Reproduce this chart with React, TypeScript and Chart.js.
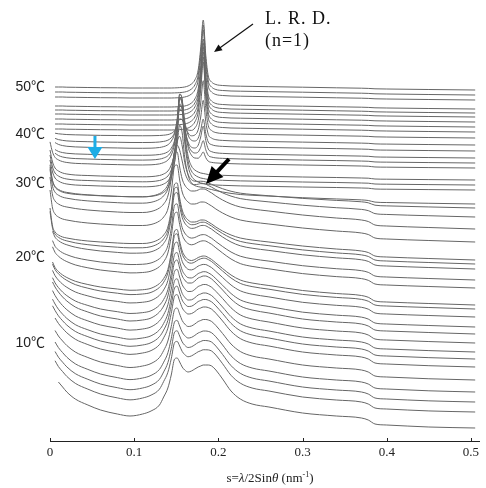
import React, { useEffect, useRef } from 'react';
import { Chart, registerables } from 'chart.js';

Chart.register(...registerables);

// scattering vector grid, s (nm^-1)
const S_GRID = [
  0, 0.003, 0.006, 0.01, 0.015, 0.02, 0.03, 0.045, 0.06, 0.08,
  0.095, 0.11, 0.12, 0.13, 0.135, 0.14, 0.144, 0.148, 0.151, 0.154,
  0.157, 0.16, 0.164, 0.168, 0.172, 0.176, 0.179, 0.182, 0.185, 0.188,
  0.192, 0.197, 0.205, 0.215, 0.226, 0.24, 0.26, 0.3, 0.34, 0.37,
  0.378, 0.386, 0.4, 0.45, 0.505,
];

// profile shapes (intensity above each curve's high-s level)
const PROFILE_HOT = [
  4, 3.5, 3, 3, 3, 2.8, 2.7, 2.5, 2.3, 2.2,
  2, 2, 2, 2, 2, 2, 2, 2.1, 2.2, 2.4,
  2.6, 3, 4, 6, 10, 20, 42, 70, 35, 14,
  8, 5.5, 4.5, 4, 3.8, 3.6, 3.3, 2.8, 2.2, 1.8,
  1.6, 1.2, 1, 0.5, 0,
];
const PROFILE_MID = [
  30, 18, 12, 9, 7, 6, 5, 4.5, 4, 3.6,
  3.3, 3.2, 3.4, 4.5, 6, 9, 15, 28, 52, 86,
  80, 48, 24, 14, 10, 8, 7, 6.5, 6, 5.5,
  5.2, 5, 4.7, 4.4, 4.1, 3.9, 3.6, 3, 2.5, 2,
  1.8, 1, 0.8, 0.4, 0,
];
const PROFILE_WARM = [
  52, 34, 28, 25, 23, 22, 20.5, 19, 18, 17,
  16.5, 16.5, 17.5, 21, 25, 33, 50, 76, 77, 62,
  50, 44, 40, 38, 38, 39, 40, 40, 39.5, 38,
  36, 33, 29, 25, 22, 20, 18, 14, 11, 9,
  7.5, 4, 3, 1.5, 0,
];
const PROFILE_COOL = [
  58, 52, 47, 42, 37, 33, 27, 22, 18, 15,
  13, 14, 16, 22, 28, 38, 54, 72, 74, 66,
  58, 54, 51, 51, 53, 56, 57, 58, 58, 57,
  55, 51, 44, 35, 28, 24, 21, 15, 12, 10,
  8, 4, 3, 1.5, 0,
];
const PROFILE_COLD = [
  60, 56, 52, 46, 41, 36, 29, 23, 18, 14,
  12, 14, 17, 23, 31, 40, 53, 69, 70, 66,
  61, 58, 56, 57, 59, 61, 62, 63, 63, 63,
  62, 58, 49, 37, 29, 24, 21, 15, 12, 10,
  8, 4, 3, 1, 0,
];
const PROFILES = [PROFILE_HOT, PROFILE_MID, PROFILE_WARM, PROFILE_COOL, PROFILE_COLD];

// one curve per temperature step, top (50℃) to bottom
const CURVE_LEVELS = [
  351, 346, 341, 332, 328, 324, 319, 314, 309, 303,
  296, 290, 283, 278, 273, 261, 256, 251, 237, 233,
  224, 212, 199, 181, 177, 172, 161, 153, 136, 132,
  124, 114, 107, 98, 89, 82, 74, 61, 49, 39,
  29, 13,
];
const CURVE_STAGE = [
  0, 0, 0, 0, 0, 0, 0, 0, 0, 0.2,
  0.4, 0.6, 0.6, 0.75, 0.85, 1, 1, 1, 1.3, 1.6,
  1.8, 2, 2, 2, 2.1, 2.2, 2.3, 2.4, 2.5, 2.6,
  2.7, 2.85, 3, 3.1, 3.2, 3.3, 3.4, 3.5, 3.6, 3.7,
  3.85, 4,
];
const CURVE_FIRST = [
  2, 2, 2, 2, 2, 2, 2, 2, 2, 2,
  2, 2, 2, 2, 0, 0, 0, 0, 0, 0,
  0, 0, 0, 0, 0, 1, 1, 1, 1, 1,
  1, 1, 1, 1, 1, 1, 2, 2, 2, 2,
  2, 3,
];

const X_TICKS = [0, 0.1, 0.2, 0.3, 0.4, 0.5];
const X_TICK_LABELS = ['0', '0.1', '0.2', '0.3', '0.4', '0.5'];
// axis title pieces: [text, style] with style n = normal, i = italic, s = superscript
const X_TITLE_PARTS: [string, string][] = [
  ['s=', 'n'], ['λ', 'i'], ['/2Sin', 'n'], ['θ', 'i'], [' (nm', 'n'], ['-1', 's'], [')', 'n'],
];
const X_TITLE_CENTER = 0.2613;
const TEMP_LABELS = ['50℃', '40℃', '30℃', '20℃', '10℃'];
const TEMP_LABEL_VALUES = [354, 307, 258, 184, 98];

const NOTE_TEXTS = ['L. R. D.', '(n=1)'];
const NOTE_POS = [[0.2553, 417], [0.2553, 395]];
const LRD_ARROW = [[0.2411, 417], [0.1948, 389]];
const BLACK_ARROW = [[0.2126, 282], [0.1853, 257]];
const BLUE_ARROW = [[0.0534, 305], [0.0534, 282]];

const SERIF = '"Liberation Serif", "Times New Roman", serif';
const SANS = '"Liberation Sans", Arial, "Noto Sans CJK JP", sans-serif';

function drawArrow(ctx: CanvasRenderingContext2D, x1: number, y1: number, x2: number, y2: number,
  shaftW: number, headL: number, headHW: number, color: string) {
  const dx = x2 - x1, dy = y2 - y1;
  const len = Math.hypot(dx, dy);
  const ux = dx / len, uy = dy / len;
  const bx = x2 - ux * headL, by = y2 - uy * headL;
  ctx.save();
  ctx.strokeStyle = color;
  ctx.fillStyle = color;
  ctx.lineWidth = shaftW;
  ctx.beginPath();
  ctx.moveTo(x1, y1);
  ctx.lineTo(bx + ux * 1, by + uy * 1);
  ctx.stroke();
  ctx.beginPath();
  ctx.moveTo(x2, y2);
  ctx.lineTo(bx - uy * headHW, by + ux * headHW);
  ctx.lineTo(bx + uy * headHW, by - ux * headHW);
  ctx.closePath();
  ctx.fill();
  ctx.restore();
}

const annotations = {
  id: 'annotations',
  afterDraw(chart: any) {
    const { ctx, scales: { x, y }, chartArea } = chart;
    const px = (p: number[]) => [x.getPixelForValue(p[0]), y.getPixelForValue(p[1])];
    ctx.save();
    // inward tick marks
    ctx.strokeStyle = '#222';
    ctx.lineWidth = 1;
    X_TICKS.forEach((v) => {
      const xx = Math.round(x.getPixelForValue(v)) + 0.5;
      ctx.beginPath();
      ctx.moveTo(xx, chartArea.bottom);
      ctx.lineTo(xx, chartArea.bottom - 3);
      ctx.stroke();
    });
    // axis title with italic symbols
    const fontFor = (st: string) =>
      st === 'i' ? `italic 13px ${SERIF}` : st === 's' ? `8px ${SERIF}` : `13px ${SERIF}`;
    let total = 0;
    X_TITLE_PARTS.forEach(([t, st]) => { ctx.font = fontFor(st); total += ctx.measureText(t).width; });
    let cx = x.getPixelForValue(X_TITLE_CENTER) - total / 2;
    const base = chartArea.bottom + 41;
    ctx.fillStyle = '#222';
    ctx.textAlign = 'left';
    ctx.textBaseline = 'alphabetic';
    X_TITLE_PARTS.forEach(([t, st]) => {
      ctx.font = fontFor(st);
      ctx.fillText(t, cx, st === 's' ? base - 5 : base);
      cx += ctx.measureText(t).width;
    });
    // text notes
    ctx.fillStyle = '#111';
    ctx.font = `18px ${SERIF}`;
    try { (ctx as any).letterSpacing = '1px'; } catch (e) { /* ignore */ }
    NOTE_TEXTS.forEach((t, i) => {
      const [tx, ty] = px(NOTE_POS[i]);
      ctx.fillText(t, tx, ty);
    });
    try { (ctx as any).letterSpacing = '0px'; } catch (e) { /* ignore */ }
    const [a1x, a1y] = px(LRD_ARROW[0]);
    const [a2x, a2y] = px(LRD_ARROW[1]);
    drawArrow(ctx, a1x, a1y, a2x, a2y, 1.2, 8, 3.5, '#111');
    const [b1x, b1y] = px(BLACK_ARROW[0]);
    const [b2x, b2y] = px(BLACK_ARROW[1]);
    drawArrow(ctx, b1x, b1y, b2x, b2y, 4, 17, 8, '#000');
    const [c1x, c1y] = px(BLUE_ARROW[0]);
    const [c2x, c2y] = px(BLUE_ARROW[1]);
    drawArrow(ctx, c1x, c1y, c2x, c2y, 3, 12, 7.5, '#1EADE6');
    ctx.restore();
  },
};

export default function App() {
  const ref = useRef<HTMLCanvasElement>(null);
  useEffect(() => {
    if (!ref.current) return;
    const datasets = CURVE_LEVELS.map((level, i) => {
      const st = CURVE_STAGE[i];
      const a = Math.floor(st);
      const b = Math.min(a + 1, PROFILES.length - 1);
      const f = st - a;
      const pa = PROFILES[a];
      const pb = PROFILES[b];
      const data: { x: number; y: number }[] = [];
      for (let k = CURVE_FIRST[i]; k < S_GRID.length; k++) {
        data.push({ x: S_GRID[k], y: level + pa[k] * (1 - f) + pb[k] * f });
      }
      return {
        data,
        borderColor: '#666666',
        borderWidth: 1,
        pointRadius: 0,
        cubicInterpolationMode: 'monotone' as const,
        fill: false,
        clip: false as any,
      };
    });
    const chart = new Chart(ref.current, {
      type: 'line',
      data: { datasets },
      options: {
        animation: false,
        responsive: false,
        events: [],
        layout: { padding: { top: 21, right: 6.6, left: 0, bottom: 0 } },
        plugins: { legend: { display: false }, tooltip: { enabled: false } },
        scales: {
          x: {
            type: 'linear',
            min: 0,
            max: 0.51,
            afterFit: (s: any) => { s.height = 47; },
            afterBuildTicks: (s: any) => { s.ticks = X_TICKS.map((v) => ({ value: v })); },
            ticks: {
              callback: (_v: any, idx: number) => X_TICK_LABELS[idx],
              font: { family: SERIF, size: 13 },
              color: '#222',
              padding: 4,
              maxRotation: 0,
              autoSkip: false,
            },
            grid: { display: false, drawTicks: false },
            border: { display: true, color: '#222', width: 1 },
            title: { display: false },
          },
          y: {
            type: 'linear',
            min: 0,
            max: 420,
            afterFit: (s: any) => { s.width = 50; },
            afterBuildTicks: (s: any) => { s.ticks = TEMP_LABEL_VALUES.map((v) => ({ value: v })); },
            ticks: {
              callback: (_v: any, idx: number) => TEMP_LABELS[idx],
              font: { family: SANS, size: 14 },
              color: '#222',
              padding: 5,
              autoSkip: false,
            },
            grid: { display: false, drawTicks: false },
            border: { display: false },
          },
        },
      },
      plugins: [annotations],
    });
    return () => chart.destroy();
  }, []);
  return (
    <div style={{ position: 'absolute', left: 0, top: 0, width: 486, height: 488, background: '#fff' }}>
      <canvas ref={ref} width={486} height={488} style={{ display: 'block' }} />
    </div>
  );
}
